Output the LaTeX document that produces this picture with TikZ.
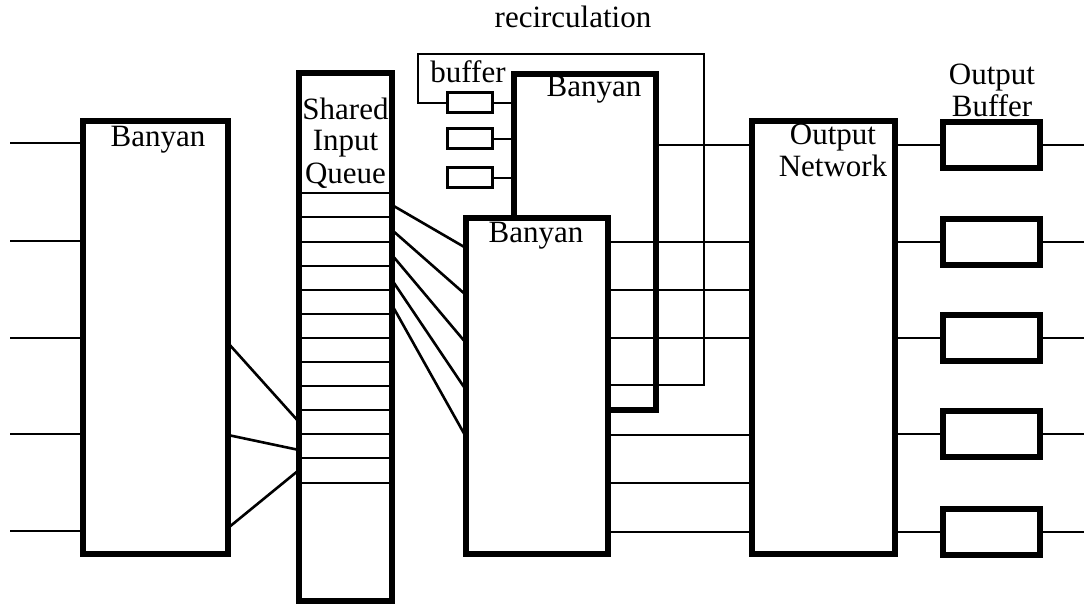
\documentclass[tikz,border=0pt]{standalone}
\usepackage{fontspec}
\setmainfont{Liberation Serif}
\begin{document}
\begin{tikzpicture}[x=1pt,y=-1pt,
  bigbox/.style={draw, line width=5.2pt, inner sep=0pt, outer sep=0pt, anchor=north west},
  obuf/.style={draw, line width=5.2pt, inner sep=0pt, outer sep=0pt, minimum width=97pt, minimum height=46pt},
  sbuf/.style={draw, line width=3pt, inner sep=0pt, outer sep=0pt, minimum width=45pt, minimum height=20pt},
  wire/.style={line width=2.6pt},
  slot/.style={line width=2.6pt},
  lbl/.style={font=\fontsize{31}{32}\selectfont, inner sep=0pt, anchor=base}]
\useasboundingbox (0,0) rectangle (1084,604);

% boxes
\node[bigbox, minimum width=145pt, minimum height=433pt] (lb) at (83,121) {};
\node[bigbox, minimum width=93pt, minimum height=528pt] (q) at (299,73) {};
\node[bigbox, minimum width=142pt, minimum height=336pt] (b1) at (514,74) {};
\node[bigbox, fill=white, minimum width=142pt, minimum height=336pt] (b2) at (466,218) {};
\node[bigbox, minimum width=143pt, minimum height=433pt] (on) at (752,121) {};

% recirculation buffers
\node[sbuf] (s1) at (469.5,103) {};
\node[sbuf] (s2) at (469.5,139) {};
\node[sbuf] (s3) at (469.5,178) {};
\foreach \s in {s1,s2,s3} \draw[wire] (\s.east) -- (\s.east -| b1.west);

% output buffers
\foreach \i/\y in {1/145,2/242,3/338,4/434,5/532}{
  \node[obuf] (o\i) at (991.5,\y) {};
  \coordinate (oe\i) at (1084,\y);
  \draw[wire] (on.east |- o\i.west) -- (o\i.west);
  \draw[wire] (o\i.east) -- (oe\i);
}

% inputs to left Banyan
\foreach \i/\y in {1/143,2/241,3/338,4/434,5/531}{
  \coordinate (in\i) at (10,\y);
  \draw[wire] (in\i) -- (in\i -| lb.west);
}

% queue slots
\foreach \y in {193,217,242,266,290,314,338,362,386,410,434,458,483}
  \draw[slot] (q.west |- 0,\y) -- (q.east |- 0,\y);

% left Banyan -> queue
\foreach \a/\b in {343/422,435/450,528/470}
  \draw[wire] (lb.east |- 0,\a) -- (q.west |- 0,\b);

% queue -> front Banyan
\foreach \a/\b in {205/248,230/295,255/343,280/390,305/437}
  \draw[wire] (q.east |- 0,\a) -- (b2.west |- 0,\b);

% Banyan outputs -> output network
\draw[wire] (b1.east |- 0,145) -- (on.west |- 0,145);
\foreach \y in {242,290,338,435,483,532}
  \draw[wire] (b2.east |- 0,\y) -- (on.west |- 0,\y);

% recirculation loop
\coordinate (r1) at (704,385);
\coordinate (r2) at (704,54);
\coordinate (r3) at (418,54);
\coordinate (r4) at (418,103);
\draw[wire] (b2.east |- r1) -- (r1) -- (r2) -- (r3) -- (r4) -- (s1.west);

% labels
\node[lbl] (tlb) at (158,147) {Banyan};
\node[lbl] (tq1) at (345.5,120) {Shared};
\node[lbl] (tq2) at (345.5,151) {Input};
\node[lbl] (tq3) at (345.5,184) {Queue};
\node[lbl] (tb1) at (594,97) {Banyan};
\node[lbl] (tb2) at (536,243) {Banyan};
\node[lbl] (tbuf) at (468,83) {buffer};
\node[lbl] (trec) at (573,28) {recirculation};
\node[lbl] (ton1) at (833,145) {Output};
\node[lbl] (ton2) at (833,177) {Network};
\node[lbl] (tob1) at (992,85) {Output};
\node[lbl] (tob2) at (992,117) {Buffer};
\end{tikzpicture}
\end{document}
